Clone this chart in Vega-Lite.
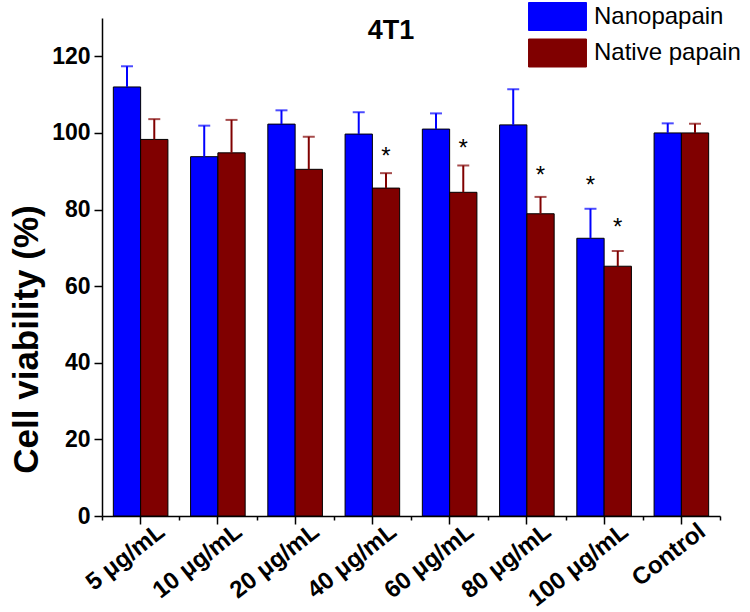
{
  "$schema": "https://vega.github.io/schema/vega-lite/v6.json",
  "autosize": "none",
  "width": 618,
  "height": 498,
  "padding": {"left": 102, "top": 18, "right": 30, "bottom": 96},
  "background": "white",
  "title": {"text": "4T1", "fontSize": 27, "fontWeight": "bold", "font": "Liberation Sans", "color": "black", "anchor": "middle", "dx": -20, "dy": 43, "offset": 0},
  "config": {"view": {"stroke": null}},
  "data": {"values": [
    {"conc": "5 μg/mL", "series": "Nanopapain", "value": 112.0, "err": 117.4},
    {"conc": "5 μg/mL", "series": "Native papain", "value": 98.3, "err": 103.6},
    {"conc": "10 μg/mL", "series": "Nanopapain", "value": 93.8, "err": 101.9},
    {"conc": "10 μg/mL", "series": "Native papain", "value": 94.8, "err": 103.4},
    {"conc": "20 μg/mL", "series": "Nanopapain", "value": 102.3, "err": 105.9},
    {"conc": "20 μg/mL", "series": "Native papain", "value": 90.5, "err": 99.0},
    {"conc": "40 μg/mL", "series": "Nanopapain", "value": 99.7, "err": 105.4},
    {"conc": "40 μg/mL", "series": "Native papain", "value": 85.6, "err": 89.5, "star": 95.3},
    {"conc": "60 μg/mL", "series": "Nanopapain", "value": 101.0, "err": 105.1},
    {"conc": "60 μg/mL", "series": "Native papain", "value": 84.5, "err": 91.5, "star": 97.5},
    {"conc": "80 μg/mL", "series": "Nanopapain", "value": 102.1, "err": 111.4},
    {"conc": "80 μg/mL", "series": "Native papain", "value": 78.9, "err": 83.3, "star": 90.2},
    {"conc": "100 μg/mL", "series": "Nanopapain", "value": 72.5, "err": 80.2, "star": 87.6},
    {"conc": "100 μg/mL", "series": "Native papain", "value": 65.2, "err": 69.2, "star": 76.7},
    {"conc": "Control", "series": "Nanopapain", "value": 100.0, "err": 102.5},
    {"conc": "Control", "series": "Native papain", "value": 100.0, "err": 102.4}
  ]},
  "resolve": {"scale": {"x": "shared", "y": "shared"}, "axis": {"x": "independent"}},
  "layer": [
    {
      "mark": {"type": "bar", "stroke": "black", "strokeWidth": 1},
      "encoding": {
        "x": {"field": "conc", "type": "nominal", "sort": null,
              "scale": {"paddingInner": 0, "paddingOuter": 0},
              "axis": {"orient": "bottom", "title": null, "labelAngle": -38, "labelFont": "Liberation Sans", "labelFontSize": 24, "labelFontWeight": "bold", "labelColor": "black", "tickSize": 8, "tickWidth": 1.5, "tickColor": "black", "domainColor": "black", "domainWidth": 1.5, "labelPadding": -5, "labelOffset": 14}},
        "xOffset": {"field": "series", "type": "nominal", "scale": {"paddingInner": 0, "paddingOuter": 0.415}},
        "y": {"field": "value", "type": "quantitative",
              "scale": {"domain": [0, 130], "nice": false, "zero": true},
              "axis": {"values": [0, 10, 20, 30, 40, 50, 60, 70, 80, 90, 100, 110, 120, 130],
                       "labelExpr": "datum.value % 20 === 0 && datum.value < 130 ? datum.label : ''",
                       "tickSize": {"condition": {"test": "datum.value % 20 === 0", "value": 8}, "value": 4},
                       "tickWidth": 1.5, "tickColor": "black", "domainColor": "black", "domainWidth": 1.5,
                       "labelFont": "Liberation Sans", "labelFontSize": 23, "labelFontWeight": "bold", "labelColor": "black", "labelPadding": 4,
                       "title": "Cell viability (%)", "titleFont": "Liberation Sans", "titleFontSize": 35, "titleFontWeight": "bold", "titleColor": "black",
                       "titleAngle": -90, "titleX": -76, "titleY": 321, "titleAlign": "center", "titleBaseline": "middle", "grid": false}},
        "color": {"field": "series", "type": "nominal",
                  "scale": {"domain": ["Nanopapain", "Native papain"], "range": ["#0000FF", "#800000"]},
                  "legend": {"orient": "none", "legendX": 441, "legendY": -16, "title": null,
                             "symbolType": "M-2.07,-1H2.07V1H-2.07Z", "symbolSize": 784, "symbolStrokeColor": "black", "symbolStrokeWidth": 1, "symbolOpacity": 1, "symbolFillOpacity": 1,
                             "labelFont": "Liberation Sans", "labelFontSize": 24, "labelColor": "black", "labelOffset": 22, "rowPadding": 3.5, "padding": 0}}
      }
    },
    {
      "mark": {"type": "rule", "strokeWidth": 2},
      "encoding": {
        "x": {"field": "conc", "type": "nominal", "sort": null,
              "axis": {"orient": "bottom", "tickBand": "extent", "labels": false, "domain": false, "tickSize": 4, "tickWidth": 1.5, "tickColor": "black", "title": null}},
        "xOffset": {"field": "series", "type": "nominal"},
        "y": {"field": "value", "type": "quantitative"},
        "y2": {"field": "err"},
        "color": {"field": "series", "type": "nominal", "legend": null}
      }
    },
    {
      "mark": {"type": "tick", "thickness": 2, "size": 12},
      "encoding": {
        "x": {"field": "conc", "type": "nominal", "sort": null, "axis": null},
        "xOffset": {"field": "series", "type": "nominal"},
        "y": {"field": "err", "type": "quantitative"},
        "color": {"field": "series", "type": "nominal", "legend": null}
      }
    },
    {
      "transform": [{"filter": "isValid(datum.star)"}],
      "mark": {"type": "text", "text": "*", "fontSize": 24, "font": "Liberation Sans", "color": "black", "baseline": "middle", "dy": 6},
      "encoding": {
        "x": {"field": "conc", "type": "nominal", "sort": null, "axis": null},
        "xOffset": {"field": "series", "type": "nominal"},
        "y": {"field": "star", "type": "quantitative"}
      }
    }
  ]
}
